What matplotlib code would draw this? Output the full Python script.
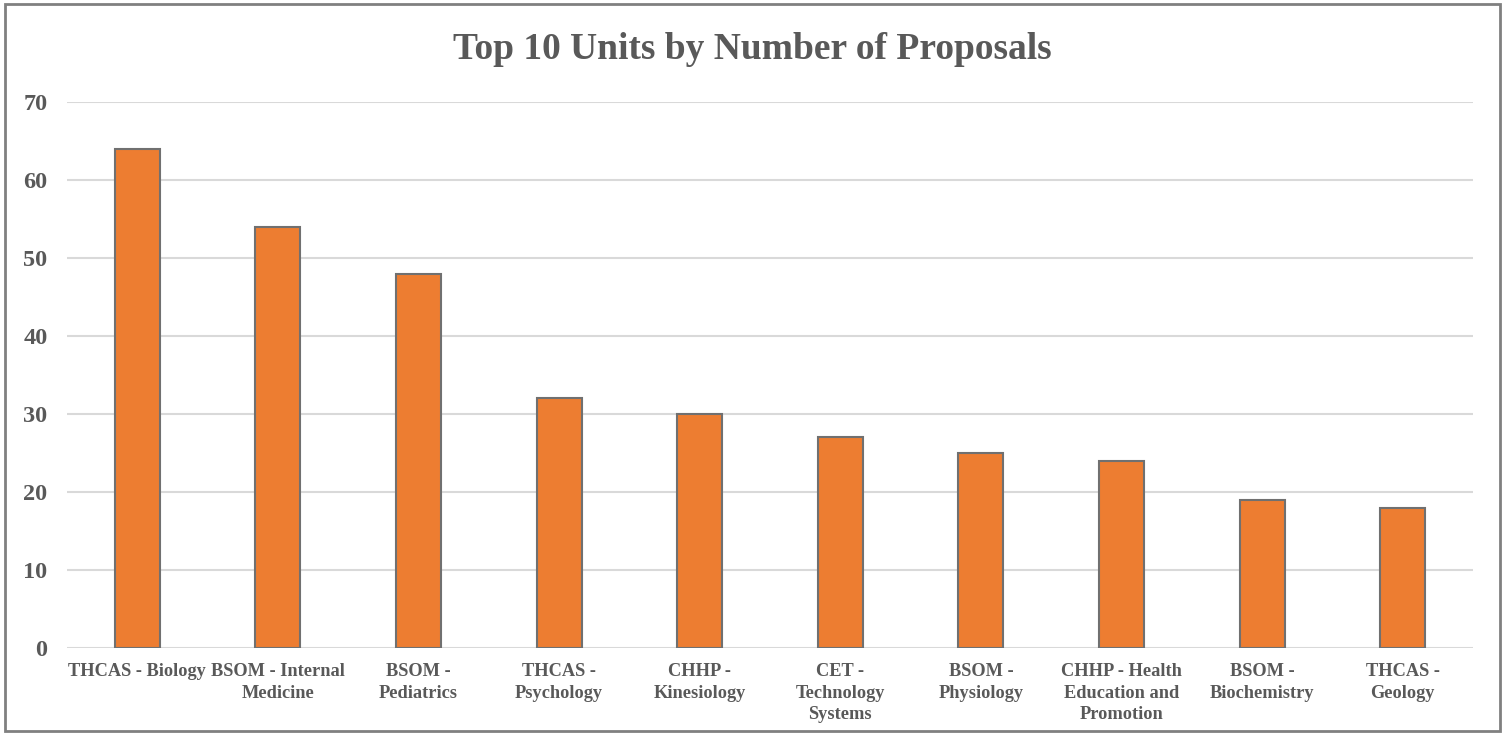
import matplotlib.pyplot as plt
from matplotlib.patches import Rectangle

# chart data
units = ["THCAS - Biology", "BSOM - Internal Medicine", "BSOM - Pediatrics",
         "THCAS - Psychology", "CHHP - Kinesiology", "CET - Technology Systems",
         "BSOM - Physiology", "CHHP - Health Education and Promotion",
         "BSOM - Biochemistry", "THCAS - Geology"]
tick_labels = ["THCAS - Biology", "BSOM - Internal\nMedicine", "BSOM -\nPediatrics",
               "THCAS -\nPsychology", "CHHP -\nKinesiology", "CET -\nTechnology\nSystems",
               "BSOM -\nPhysiology", "CHHP - Health\nEducation and\nPromotion",
               "BSOM -\nBiochemistry", "THCAS -\nGeology"]
proposals = [64, 54, 48, 32, 30, 27, 25, 24, 19, 18]
y_ticks = [0, 10, 20, 30, 40, 50, 60, 70]

text_color = "#595959"
plt.rcParams['font.family'] = ['Liberation Serif', 'DejaVu Serif']
plt.rcParams['font.weight'] = 'bold'

fig = plt.figure(figsize=(15.05, 7.34), dpi=100)
ax = fig.add_axes([0.0445, 0.1172, 0.9342, 0.7439])

x = range(len(units))
ax.bar(x, proposals, width=0.32, color="#ED7D31", edgecolor="#707070",
       linewidth=1.5, zorder=3)

ax.set_xlim(-0.5, len(units) - 0.5)
ax.set_ylim(0, 70)
ax.set_yticks(y_ticks)
ax.set_yticklabels([str(v) for v in y_ticks], fontsize=17.5, fontweight='bold', color=text_color)
ax.set_xticks(list(x))
ax.set_xticklabels(tick_labels, fontsize=13.2, fontweight='bold', color=text_color,
                   linespacing=1.33, va='top')
ax.tick_params(axis='both', length=0)
ax.tick_params(axis='y', pad=14)
ax.tick_params(axis='x', pad=11)

ax.grid(axis='y', color="#d9d9d9", linewidth=1.5, zorder=0)
for s in ax.spines.values():
    s.set_visible(False)

fig.text(0.5, 0.933, "Top 10 Units by Number of Proposals", ha='center', va='center',
         fontsize=27, fontweight='bold', color=text_color)

# outer chart border
fig.patches.append(Rectangle((0.003, 0.004), 0.994, 0.991, transform=fig.transFigure,
                             fill=False, edgecolor="#808080", linewidth=2))

fig.savefig("out.png", dpi=100)
